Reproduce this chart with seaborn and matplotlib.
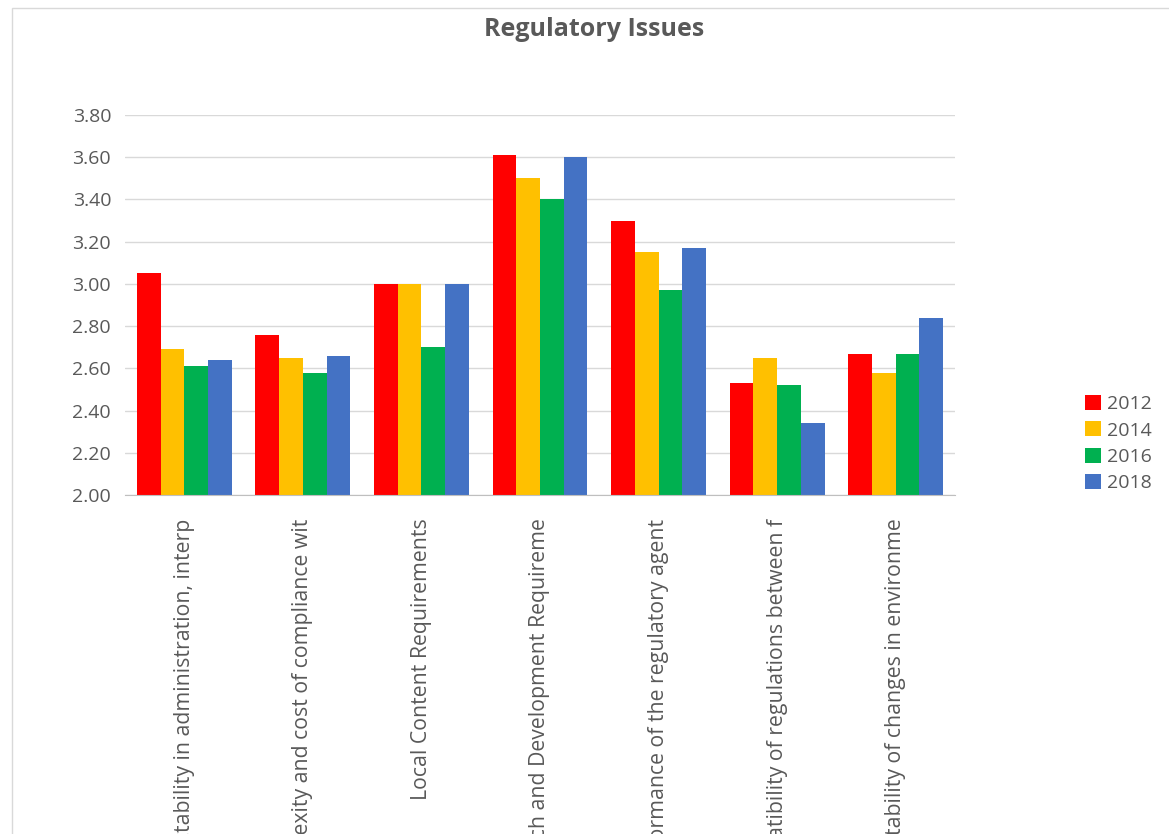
import pandas as pd
import matplotlib.pyplot as plt
import seaborn as sns
from matplotlib.patches import Rectangle

# labels as Excel shows them (truncated)
issues = [
    "Predictability in administration, interp",
    "Complexity and cost of compliance wit",
    "Local Content Requirements",
    "Research and Development Requireme",
    "Performance of the regulatory agent",
    "Compatibility of regulations between f",
    "Predictability of changes in environme",
]
years = ["2012", "2014", "2016", "2018"]
v2012 = [3.05, 2.76, 3.00, 3.61, 3.30, 2.53, 2.67]
v2014 = [2.69, 2.65, 3.00, 3.50, 3.15, 2.65, 2.58]
v2016 = [2.61, 2.58, 2.70, 3.40, 2.97, 2.52, 2.67]
v2018 = [2.64, 2.66, 3.00, 3.60, 3.17, 2.34, 2.84]
colors = ["#FF0000", "#FFC000", "#00B050", "#4472C4"]

df = pd.DataFrame({"Issue": issues, "2012": v2012, "2014": v2014,
                   "2016": v2016, "2018": v2018})
long = df.melt(id_vars="Issue", var_name="Year", value_name="Score")

sns.set_style("white")
plt.rcParams["font.family"] = ["Open Sans", "DejaVu Sans"]
gray = "#595959"

fig = plt.figure(figsize=(11.69, 8.34), dpi=100)
ax = fig.add_axes([125 / 1169, 1 - 495 / 834, 830 / 1169, 380 / 834])

sns.barplot(data=long, x="Issue", y="Score", hue="Year", hue_order=years,
            palette=colors, width=0.8, saturation=1, ax=ax, linewidth=0)

ax.set_ylim(2.0, 3.8)
ax.set_xlim(-0.5, len(issues) - 0.5)
ax.set_yticks([2.0 + 0.2 * i for i in range(10)])
ax.set_yticklabels([f"{2.0 + 0.2 * i:.2f}" for i in range(10)], color=gray, fontsize=14)
ax.yaxis.grid(True, color="#d9d9d9", linewidth=1)
ax.set_axisbelow(True)
ax.set_xlabel("")
ax.set_ylabel("")
for s in ["top", "right", "left"]:
    ax.spines[s].set_visible(False)
ax.spines["bottom"].set_color("#bfbfbf")
ax.tick_params(axis="y", length=0, pad=10)

# category labels run off the bottom edge, as in the original
ax.set_xticks(range(len(issues)))
ax.set_xticklabels(issues, rotation=90, va="top", ha="center",
                   color=gray, fontsize=15.3)
ax.tick_params(axis="x", which="major", length=0, pad=17)
ax.set_xticks([i - 0.5 for i in range(len(issues) + 1)], minor=True)
ax.tick_params(axis="x", which="minor", length=8, color="#bfbfbf", width=1)

ax.legend(loc="center left", bbox_to_anchor=(1.136, 0.135), frameon=False,
          fontsize=14, handlelength=0.8, handleheight=0.8, handletextpad=0.3,
          labelspacing=0.42, labelcolor=gray)

fig.text(0.508, 1 - 30 / 834, "Regulatory Issues", ha="center", va="center",
         fontsize=18, fontweight="bold", color=gray)

fig.patches.append(Rectangle((12 / 1169, -0.1), 1.2, 1 - 8 / 834 + 0.1,
                             transform=fig.transFigure, fill=False,
                             edgecolor="#d9d9d9", linewidth=1))

fig.savefig("out.png", dpi=100)
